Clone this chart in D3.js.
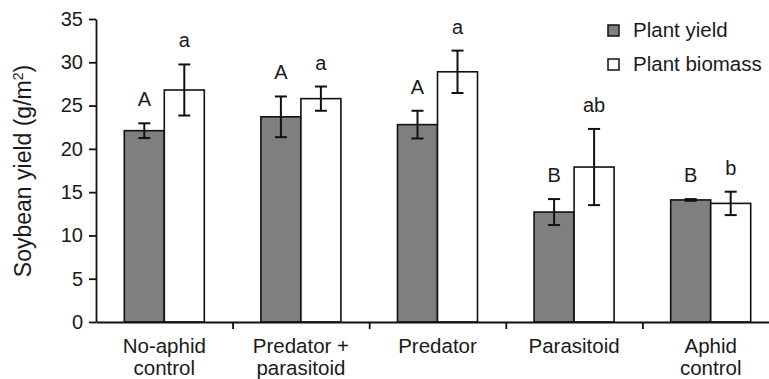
<!DOCTYPE html>
<html>
<head>
<meta charset="utf-8">
<script src="https://cdn.jsdelivr.net/npm/d3@7"></script>
<style>
body { margin: 0; background: #fff; }
text { font-family: "Liberation Sans", Arial, sans-serif; fill: #1a1a1a; }
</style>
</head>
<body>
<svg width="769" height="379"></svg>
<script>
// treatments (label lines)
var categories = [["No-aphid", "control"], ["Predator +", "parasitoid"], ["Predator"], ["Parasitoid"], ["Aphid", "control"]];
var series = ["Plant yield", "Plant biomass"];
var yieldMean = [22.1, 23.7, 22.8, 12.7, 14.1];
var yieldErr = [0.85, 2.35, 1.6, 1.5, 0.1];
var biomassMean = [26.8, 25.8, 28.9, 17.9, 13.7];
var biomassErr = [2.95, 1.4, 2.45, 4.4, 1.35];
var yieldLetters = ["A", "A", "A", "B", "B"];
var biomassLetters = ["a", "a", "a", "ab", "b"];
var yTicks = [0, 5, 10, 15, 20, 25, 30, 35];

var svg = d3.select("svg"),
    plotLeft = 96, plotRight = 779, plotTop = 19, plotBottom = 322;

var colors = { "Plant yield": "#7f7f7f", "Plant biomass": "#ffffff" };

var x = d3.scaleBand().domain(d3.range(categories.length)).range([plotLeft, plotRight]).padding(0);
var xEdge = d3.scaleLinear().domain([0, categories.length]).range([plotLeft, plotRight]);
var x1 = d3.scaleBand().domain(series)
    .range([x.bandwidth() / 2 - 40, x.bandwidth() / 2 + 40]);
var y = d3.scaleLinear().domain([0, 35]).range([plotBottom, plotTop]);

var rows = [];
categories.forEach(function(c, i) {
    rows.push({ i: i, s: "Plant yield", v: yieldMean[i], e: yieldErr[i], l: yieldLetters[i] });
    rows.push({ i: i, s: "Plant biomass", v: biomassMean[i], e: biomassErr[i], l: biomassLetters[i] });
});

// bars
svg.append("g").selectAll("rect")
    .data(rows).enter().append("rect")
    .attr("x", function(d) { return x(d.i) + x1(d.s); })
    .attr("y", function(d) { return y(d.v); })
    .attr("width", x1.bandwidth())
    .attr("height", function(d) { return y(0) - y(d.v); })
    .attr("fill", function(d) { return colors[d.s]; })
    .attr("stroke", "#111")
    .attr("stroke-width", 1.6);

// error bars
var eb = svg.append("g").attr("stroke", "#111").attr("stroke-width", 2).selectAll("g")
    .data(rows).enter().append("g")
    .attr("transform", function(d) { return "translate(" + (x(d.i) + x1(d.s) + x1.bandwidth() / 2) + ",0)"; });
eb.append("line")
    .attr("y1", function(d) { return y(d.v + d.e); })
    .attr("y2", function(d) { return y(d.v - d.e); });
eb.append("line").attr("x1", -6).attr("x2", 6)
    .attr("y1", function(d) { return y(d.v + d.e); })
    .attr("y2", function(d) { return y(d.v + d.e); });
eb.append("line").attr("x1", -6).attr("x2", 6)
    .attr("y1", function(d) { return y(d.v - d.e); })
    .attr("y2", function(d) { return y(d.v - d.e); });

// significance letters
svg.append("g").selectAll("text")
    .data(rows).enter().append("text")
    .attr("x", function(d) { return x(d.i) + x1(d.s) + x1.bandwidth() / 2; })
    .attr("y", function(d) { return y(d.v + d.e) - 17; })
    .attr("text-anchor", "middle")
    .attr("font-size", 20)
    .text(function(d) { return d.l; });

// y axis
var yAxis = svg.append("g")
    .attr("transform", "translate(" + plotLeft + ",0)")
    .call(d3.axisLeft(y).tickValues(yTicks).tickSize(7).tickSizeOuter(0).tickPadding(6));
yAxis.selectAll("text").attr("font-size", 20).style("font-family", null).attr("fill", "#1a1a1a");
yAxis.selectAll("path, line").attr("stroke", "#111").attr("stroke-width", 1.8);

// x axis with ticks between categories
var xAxis = svg.append("g")
    .attr("transform", "translate(0," + plotBottom + ")")
    .call(d3.axisBottom(xEdge).tickValues([1, 2, 3, 4]).tickSize(7).tickSizeOuter(0).tickFormat(""));
xAxis.selectAll("path, line").attr("stroke", "#111").attr("stroke-width", 1.8);

// category labels
svg.append("g").selectAll("text")
    .data(categories).enter().append("text")
    .attr("x", function(d, i) { return x(i) + x.bandwidth() / 2; })
    .attr("y", 353)
    .attr("text-anchor", "middle")
    .attr("font-size", 20.5)
    .selectAll("tspan")
    .data(function(d) { return d; }).enter().append("tspan")
    .attr("x", function() { return d3.select(this.parentNode).attr("x"); })
    .attr("dy", function(d, j) { return j === 0 ? 0 : 22; })
    .text(function(d) { return d; });

// y title
var title = svg.append("text")
    .attr("transform", "translate(31,171) rotate(-90)")
    .attr("text-anchor", "middle")
    .attr("font-size", 23);
title.append("tspan").text("Soybean yield (g/m");
title.append("tspan").attr("font-size", 14).attr("dy", -8).text("2");
title.append("tspan").attr("dy", 8).text(")");

// legend
var legend = svg.append("g").selectAll("g")
    .data(series).enter().append("g")
    .attr("transform", function(d, i) { return "translate(608," + (25 + i * 34) + ")"; });
legend.append("rect")
    .attr("width", 11).attr("height", 11)
    .attr("fill", function(d) { return colors[d]; })
    .attr("stroke", "#111").attr("stroke-width", 1.5);
legend.append("text")
    .attr("x", 25).attr("y", 12)
    .attr("font-size", 20.5)
    .text(function(d) { return d; });
</script>
</body>
</html>
